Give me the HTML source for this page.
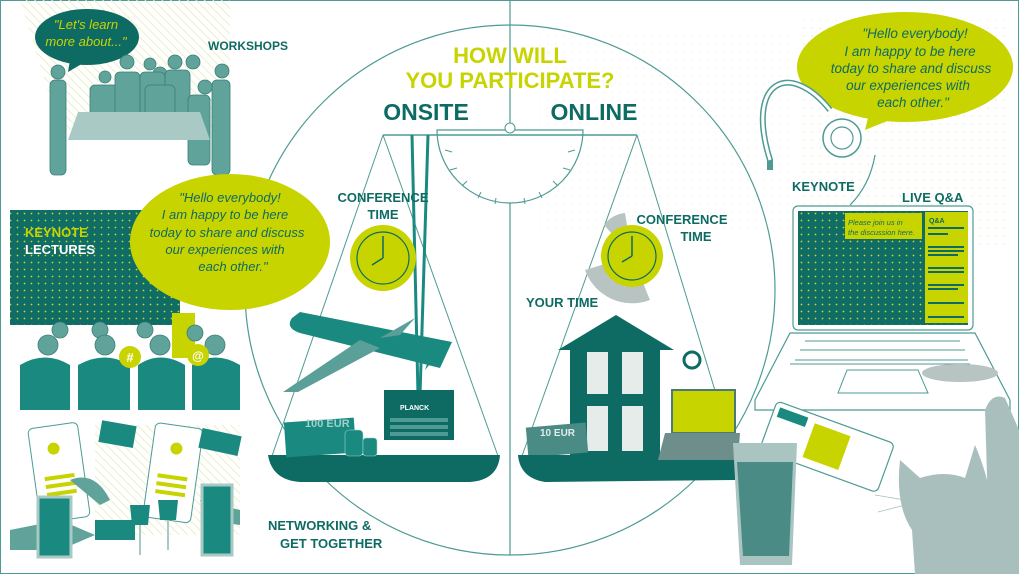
<!DOCTYPE html>
<html><head><meta charset="utf-8"><style>
html,body{margin:0;padding:0;background:#fff}
svg{display:block}
text{font-family:"Liberation Sans",sans-serif}
.b{font-weight:bold}
.q{font-style:italic}
</style></head><body>
<svg width="1019" height="574" viewBox="0 0 1019 574" xmlns="http://www.w3.org/2000/svg">
<defs>
<pattern id="dots" width="7" height="7" patternUnits="userSpaceOnUse"><rect width="7" height="7" fill="#0f6d66"/><circle cx="3.5" cy="3.5" r="0.9" fill="#c9d62a"/></pattern>
<pattern id="ldots" width="8" height="8" patternUnits="userSpaceOnUse"><circle cx="4" cy="4" r="0.8" fill="#e8eccd"/></pattern>
<pattern id="hatch" width="6" height="6" patternUnits="userSpaceOnUse" patternTransform="rotate(-45)"><line x1="0" y1="0" x2="0" y2="6" stroke="#ecefc8" stroke-width="2"/></pattern>
</defs>
<rect x="0.5" y="0.5" width="1018" height="573" fill="#fff" stroke="#4d9b94"/>
<rect x="800" y="20" width="210" height="230" fill="url(#ldots)"/>
<rect x="540" y="30" width="250" height="200" fill="url(#ldots)" opacity=".6"/>
<polygon points="20,0 230,0 230,130 60,130" fill="url(#hatch)"/>
<line x1="510" y1="0" x2="510" y2="555" stroke="#4d9b94" stroke-width="1.2"/>
<circle cx="510" cy="290" r="265" fill="none" stroke="#4d9b94" stroke-width="1.2"/>
<text x="510" y="63" text-anchor="middle" class="b" font-size="22" fill="#c8d400">HOW WILL</text>
<text x="510" y="88" text-anchor="middle" class="b" font-size="22" fill="#c8d400">YOU PARTICIPATE?</text>
<text x="426" y="120" text-anchor="middle" class="b" font-size="23" fill="#0e6b63">ONSITE</text>
<text x="594" y="120" text-anchor="middle" class="b" font-size="23" fill="#0e6b63">ONLINE</text>
<path d="M437,130 A73,73 0 0 0 583,130 Z" fill="#fff" stroke="#4d9b94" stroke-width="1.2"/>
<line x1="383" y1="135" x2="637" y2="135" stroke="#4d9b94" stroke-width="1.5"/>
<circle cx="510" cy="128" r="5" fill="#fff" stroke="#4d9b94"/>
<g stroke="#4d9b94" stroke-width="1">
<line x1="445" y1="150" x2="452" y2="152"/><line x1="450" y1="170" x2="457" y2="168"/><line x1="462" y1="186" x2="467" y2="181"/><line x1="478" y1="198" x2="481" y2="192"/><line x1="495" y1="204" x2="496" y2="198"/>
<line x1="575" y1="150" x2="568" y2="152"/><line x1="570" y1="170" x2="563" y2="168"/><line x1="558" y1="186" x2="553" y2="181"/><line x1="542" y1="198" x2="539" y2="192"/><line x1="525" y1="204" x2="524" y2="198"/>
<line x1="383" y1="135" x2="272" y2="456"/><line x1="383" y1="135" x2="498" y2="456"/>
<line x1="637" y1="135" x2="522" y2="456"/><line x1="637" y1="135" x2="735" y2="456"/>
</g>
<line x1="412" y1="135" x2="418" y2="395" stroke="#1a8a80" stroke-width="3"/>
<line x1="428" y1="135" x2="420" y2="395" stroke="#1a8a80" stroke-width="3"/>
<circle cx="383" cy="258" r="33" fill="#c8d400"/>
<circle cx="383" cy="258" r="26" fill="none" stroke="#0e6b63" stroke-width="1.2"/>
<line x1="383" y1="258" x2="383" y2="236" stroke="#0e6b63" stroke-width="1.5"/><line x1="383" y1="258" x2="372" y2="265" stroke="#0e6b63" stroke-width="1.5"/>
<text x="383" y="202" text-anchor="middle" class="b" font-size="13" fill="#0e6b63">CONFERENCE</text>
<text x="383" y="219" text-anchor="middle" class="b" font-size="13" fill="#0e6b63">TIME</text>
<g fill="#1a8a80">
<path d="M292,318 Q285,328 300,333 L440,368 L452,342 L300,312 Z"/>
<path d="M360,340 L283,392 L298,392 L380,348 Z" fill="#5a9f98"/>
<path d="M380,338 L415,318 L400,335 Z" fill="#5a9f98"/>
<path d="M430,355 L448,342 L425,370 Z"/>
</g>
<path d="M268,455 L500,455 Q498,480 470,482 L300,482 Q272,480 268,455 Z" fill="#0e6b63"/>
<rect x="285" y="420" width="70" height="35" fill="#1a8a80" transform="rotate(-4 320 437)"/>
<text x="305" y="427" class="b" font-size="11" fill="#9fd0ca">100 EUR</text>
<g fill="#1a8a80" stroke="#9fd0ca" stroke-width=".6"><rect x="345" y="430" width="18" height="26" rx="4"/><rect x="363" y="438" width="14" height="18" rx="3"/></g>
<rect x="384" y="390" width="70" height="50" fill="#0e6b63"/>
<text x="400" y="410" class="b" font-size="7" fill="#fff">PLANCK</text>
<g fill="#4d9b94"><rect x="390" y="418" width="58" height="4"/><rect x="390" y="425" width="58" height="4"/><rect x="390" y="432" width="58" height="4"/></g>
<path d="M604,225 A30,30 0 0 1 625,213 L632,256 Z" fill="#b8c4c2"/>
<path d="M585,270 A50,50 0 0 0 650,300 L632,256 Z" fill="#b8c4c2"/>
<circle cx="632" cy="256" r="31" fill="#c8d400"/>
<circle cx="632" cy="256" r="24" fill="none" stroke="#0e6b63" stroke-width="1.2"/>
<line x1="632" y1="256" x2="632" y2="236" stroke="#0e6b63" stroke-width="1.5"/><line x1="632" y1="256" x2="622" y2="262" stroke="#0e6b63" stroke-width="1.5"/>
<text x="682" y="224" text-anchor="middle" class="b" font-size="13" fill="#0e6b63">CONFERENCE</text>
<text x="696" y="241" text-anchor="middle" class="b" font-size="13" fill="#0e6b63">TIME</text>
<text x="526" y="307" class="b" font-size="13" fill="#0e6b63">YOUR TIME</text>
<path d="M558,350 L616,315 L674,350 L660,350 L660,455 L570,455 L570,350 Z" fill="#0e6b63"/>
<g fill="#e6ecea"><rect x="587" y="352" width="21" height="42"/><rect x="622" y="352" width="21" height="42"/><rect x="587" y="406" width="21" height="45"/><rect x="622" y="406" width="21" height="45"/></g>
<rect x="527" y="425" width="60" height="30" fill="#4a8b86" transform="rotate(-5 557 440)"/>
<text x="540" y="436" class="b" font-size="10" fill="#dfeceb">10 EUR</text>
<path d="M518,455 L735,455 L735,480 L545,482 Q520,478 518,455 Z" fill="#0e6b63"/>
<rect x="672" y="390" width="63" height="43" fill="#c8d400" stroke="#4a7a76" stroke-width="2"/>
<path d="M665,433 L740,433 L738,460 L658,460 Z" fill="#6d8e8b"/>
<circle cx="692" cy="360" r="8" fill="none" stroke="#0e6b63" stroke-width="3"/>
<ellipse cx="905" cy="67" rx="108" ry="55" fill="#c8d400"/>
<path d="M870,110 L865,130 L895,118 Z" fill="#c8d400"/>
<g font-size="13.5" fill="#0e6b63" text-anchor="middle">
<text x="915" y="38" class="q">"Hello everybody!</text>
<text x="910" y="56" class="q">I am happy to be here</text>
<text x="911" y="73" class="q">today to share and discuss</text>
<text x="908" y="90" class="q">our experiences with</text>
<text x="913" y="107" class="q">each other."</text>
</g>
<path d="M830,110 C790,60 745,80 770,160 L770,170" fill="none" stroke="#4d9b94" stroke-width="6"/>
<path d="M830,110 C790,60 745,80 770,160" fill="none" stroke="#fff" stroke-width="3"/>
<circle cx="842" cy="138" r="19" fill="#fff" stroke="#4d9b94" stroke-width="1.5"/>
<circle cx="842" cy="138" r="11" fill="#fff" stroke="#4d9b94" stroke-width="1.2"/>
<path d="M875,155 Q870,185 850,205" fill="none" stroke="#4d9b94" stroke-width="1.2"/>
<text x="792" y="191" class="b" font-size="13" fill="#0e6b63">KEYNOTE</text>
<text x="902" y="202" class="b" font-size="13" fill="#0e6b63">LIVE Q&amp;A</text>
<rect x="793" y="206" width="180" height="124" rx="5" fill="#fff" stroke="#4d9b94" stroke-width="1.2"/>
<rect x="798" y="211" width="170" height="114" fill="url(#dots)"/>
<rect x="925" y="212" width="43" height="111" fill="#c8d400"/>
<g fill="#0e6b63"><rect x="928" y="227" width="36" height="2"/><rect x="928" y="233" width="20" height="2"/><rect x="928" y="246" width="36" height="2"/><rect x="928" y="250" width="36" height="2"/><rect x="928" y="254" width="30" height="2"/><rect x="928" y="267" width="36" height="2"/><rect x="928" y="271" width="36" height="2"/><rect x="928" y="284" width="36" height="2"/><rect x="928" y="288" width="30" height="2"/><rect x="928" y="302" width="36" height="2"/><rect x="928" y="316" width="36" height="2"/></g>
<text x="929" y="223" class="b" font-size="7" fill="#0e6b63">Q&amp;A</text>
<rect x="845" y="213" width="77" height="26" fill="#c8d400"/>
<text x="848" y="225" class="q" font-size="7.5" fill="#0e6b63">Please join us in</text>
<text x="848" y="235" class="q" font-size="7.5" fill="#0e6b63">the discussion here.</text>
<path d="M790,333 L975,333 L1010,400 L1010,410 L755,410 L755,400 Z" fill="#fff" stroke="#4d9b94" stroke-width="1.2"/>
<g stroke="#4d9b94"><line x1="805" y1="341" x2="960" y2="341"/><line x1="800" y1="350" x2="965" y2="350"/><line x1="795" y1="360" x2="968" y2="360"/><line x1="790" y1="364" x2="970" y2="364"/></g>
<path d="M847,370 L918,370 L928,393 L838,393 Z" fill="none" stroke="#4d9b94"/>
<ellipse cx="960" cy="373" rx="38" ry="9" fill="#b8c4c2"/>
<g transform="rotate(20 825 445)"><rect x="765" y="420" width="125" height="52" rx="5" fill="#fff" stroke="#4d9b94" stroke-width="1.2"/><rect x="808" y="428" width="38" height="36" fill="#c8d400"/><rect x="770" y="425" width="30" height="10" fill="#1a8a80"/></g>
<path d="M733,443 L797,443 L792,565 L740,565 Z" fill="#a9c4c1"/>
<path d="M737,462 L793,462 L789,556 L743,556 Z" fill="#4a8b86"/>
<!-- cat -->
<g fill="#a9bfbd">
<path d="M985,410 Q992,392 1005,398 L1019,430 L1019,574 L990,574 Z"/>
<path d="M900,460 L920,478 Q945,470 965,478 L975,445 Q990,480 992,510 Q1000,540 1005,574 L915,574 L912,530 Q895,505 900,460 Z"/>
</g>
<g stroke="#a9bfbd" stroke-width=".8"><line x1="905" y1="500" x2="875" y2="495"/><line x1="905" y1="505" x2="878" y2="512"/><line x1="995" y1="480" x2="1015" y2="475"/></g>
<!-- LEFT -->
<ellipse cx="87" cy="37" rx="52" ry="28" fill="#0e6b63"/>
<path d="M70,60 L68,72 L85,62 Z" fill="#0e6b63"/>
<text x="86" y="29" text-anchor="middle" class="q" font-size="13" fill="#c8d400">"Let's learn</text>
<text x="86" y="46" text-anchor="middle" class="q" font-size="13" fill="#c8d400">more about..."</text>
<text x="208" y="50" class="b" font-size="12" fill="#0e6b63">WORKSHOPS</text>
<g fill="#5fa39b" stroke="#3a7f77" stroke-width=".8">
<circle cx="58" cy="72" r="7"/><rect x="50" y="80" width="16" height="95" rx="5"/>
<circle cx="105" cy="77" r="6"/><circle cx="127" cy="62" r="7"/><circle cx="150" cy="64" r="6"/><circle cx="175" cy="62" r="7"/><circle cx="193" cy="62" r="7"/><circle cx="160" cy="74" r="7"/><circle cx="205" cy="87" r="7"/><circle cx="222" cy="71" r="7"/>
<rect x="90" y="85" width="30" height="35" rx="5"/><rect x="115" y="72" width="25" height="50" rx="5"/><rect x="140" y="72" width="25" height="50" rx="5"/><rect x="165" y="70" width="25" height="60" rx="5"/><rect x="188" y="95" width="22" height="70" rx="5"/><rect x="212" y="80" width="18" height="95" rx="5"/><rect x="145" y="85" width="30" height="40" rx="5"/>
</g>
<path d="M78,112 L200,112 L210,140 L68,140 Z" fill="#a9c9c4"/>
<rect x="10" y="210" width="170" height="115" fill="url(#dots)"/>
<text x="25" y="237" class="b" font-size="13" fill="#c8d400">KEYNOTE</text>
<text x="25" y="254" class="b" font-size="13" fill="#fff">LECTURES</text>
<ellipse cx="230" cy="242" rx="100" ry="68" fill="#c8d400"/>
<path d="M195,296 L185,300 L215,305 Z" fill="#c8d400"/>
<g font-size="13" fill="#0e6b63" text-anchor="middle">
<text x="230" y="202" class="q">"Hello everybody!</text>
<text x="225" y="219" class="q">I am happy to be here</text>
<text x="227" y="237" class="q">today to share and discuss</text>
<text x="225" y="254" class="q">our experiences with</text>
<text x="233" y="271" class="q">each other."</text>
</g>
<rect x="172" y="313" width="23" height="45" fill="#c8d400"/>
<g fill="#5fa39b" stroke="#3a7f77" stroke-width=".8">
<circle cx="60" cy="330" r="8"/><circle cx="100" cy="330" r="8"/><circle cx="145" cy="330" r="8"/><circle cx="195" cy="333" r="8"/>
<circle cx="48" cy="345" r="10"/><circle cx="105" cy="345" r="10"/><circle cx="160" cy="345" r="10"/><circle cx="215" cy="345" r="10"/>
</g>
<g fill="#1a8a80">
<path d="M20,365 Q45,350 70,365 L70,410 L20,410 Z"/><path d="M78,365 Q105,350 130,365 L130,410 L78,410 Z"/><path d="M138,365 Q160,350 185,365 L185,410 L138,410 Z"/><path d="M192,365 Q215,350 240,365 L240,410 L192,410 Z"/>
</g>
<circle cx="130" cy="357" r="11" fill="#c8d400"/><text x="130" y="362" text-anchor="middle" class="b" font-size="13" fill="#fff">#</text>
<circle cx="198" cy="355" r="11" fill="#c8d400"/><text x="198" y="360" text-anchor="middle" class="b" font-size="12" fill="#fff">@</text>
<rect x="95" y="425" width="145" height="110" fill="url(#hatch)"/>
<g transform="rotate(-8 60 480)"><rect x="35" y="425" width="50" height="95" rx="5" fill="#fff" stroke="#4d9b94"/><circle cx="58" cy="448" r="6" fill="#c8d400"/><g fill="#c8d400"><rect x="45" y="475" width="30" height="4"/><rect x="45" y="483" width="30" height="4"/><rect x="45" y="491" width="30" height="4"/></g></g>
<g transform="rotate(8 170 480)"><rect x="148" y="425" width="48" height="95" rx="5" fill="#fff" stroke="#4d9b94"/><circle cx="172" cy="448" r="6" fill="#c8d400"/><g fill="#c8d400"><rect x="157" y="475" width="30" height="4"/><rect x="157" y="483" width="30" height="4"/><rect x="157" y="491" width="30" height="4"/></g></g>
<rect x="100" y="423" width="35" height="22" fill="#1a8a80" transform="rotate(10 117 434)"/>
<rect x="200" y="432" width="40" height="20" fill="#1a8a80" transform="rotate(12 220 442)"/>
<g fill="#5fa39b"><path d="M10,530 L60,520 L95,535 L60,550 L10,550 Z"/><path d="M70,480 Q95,470 110,500 L100,505 Z"/><path d="M200,500 L240,510 L240,525 L205,520 Z"/></g>
<rect x="38" y="497" width="33" height="60" fill="#1a8a80" stroke="#a9c9c4" stroke-width="3"/>
<rect x="202" y="485" width="30" height="70" fill="#1a8a80" stroke="#a9c9c4" stroke-width="3"/>
<path d="M130,505 L150,505 L148,525 L132,525 Z" fill="#1a8a80"/><path d="M158,500 L178,500 L176,520 L160,520 Z" fill="#1a8a80"/>
<line x1="140" y1="525" x2="140" y2="555" stroke="#a9c9c4" stroke-width="2"/><line x1="168" y1="520" x2="168" y2="550" stroke="#a9c9c4" stroke-width="2"/>
<rect x="95" y="520" width="40" height="20" fill="#1a8a80"/>
<text x="268" y="530" class="b" font-size="13" fill="#0e6b63">NETWORKING &amp;</text>
<text x="280" y="548" class="b" font-size="13" fill="#0e6b63">GET TOGETHER</text>
</svg>
</body></html>
